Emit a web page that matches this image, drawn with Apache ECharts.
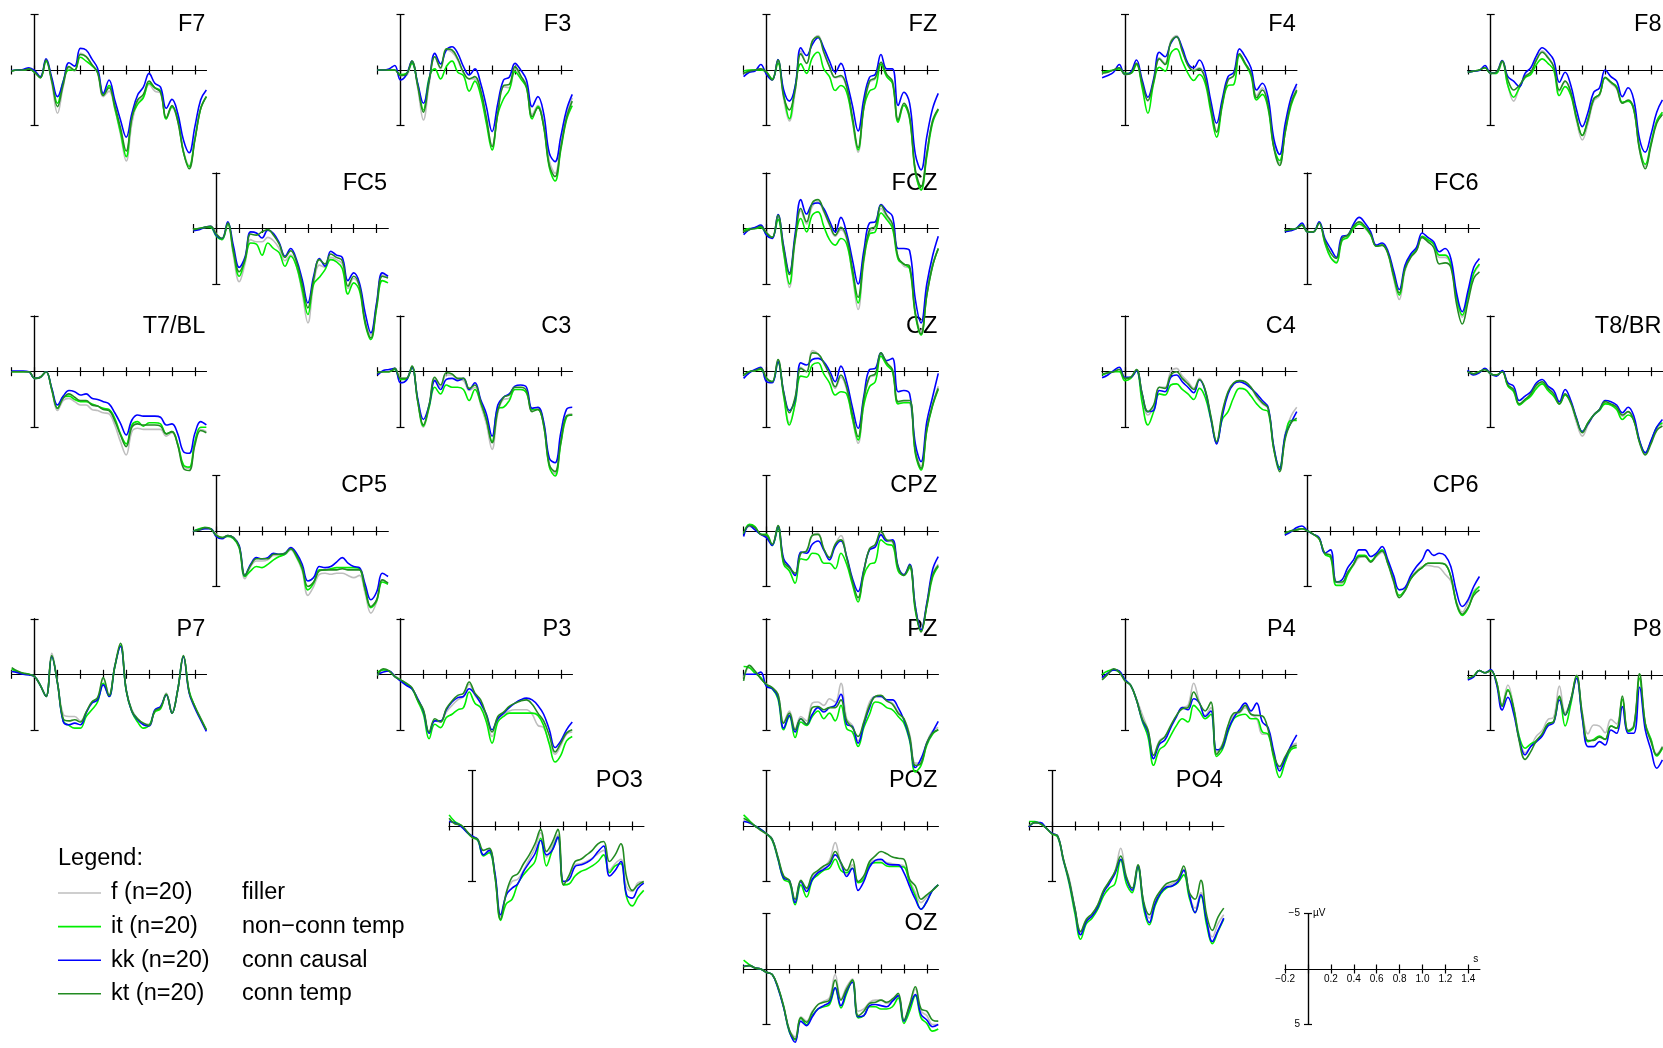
<!DOCTYPE html>
<html><head><meta charset="utf-8">
<script src="https://cdn.jsdelivr.net/npm/echarts@6/dist/echarts.min.js"></script>
<style>html,body{margin:0;padding:0;background:#fff}#c{width:1663px;height:1048px}</style>
</head><body><div id="c"></div><script>
// ---- data (µV, negative plotted up) ----
const times = [-0.2,-0.15,-0.1,-0.05,0,0.05,0.1,0.15,0.2,0.25,0.3,0.35,0.4,0.45,0.5,0.55,0.6,0.65,0.7,0.75,0.8,0.85,0.9,0.95,1.0,1.05,1.1,1.15,1.2,1.25,1.3,1.35,1.4,1.45,1.5];
const seriesNames = ['f (n=20)','it (n=20)','kk (n=20)','kt (n=20)'];
const seriesDesc = ['filler','non\u2212conn temp','conn causal','conn temp'];
const xTickValues = [-0.2,0,0.2,0.4,0.6,0.8,1.0,1.2,1.4];
const xLabelValues = [-0.2,0.2,0.4,0.6,0.8,1.0,1.2,1.4];
const xLabelTexts = ['\u22120.2','0.2','0.4','0.6','0.8','1.0','1.2','1.4'];
const yTickValues = [-5,5];

// each channel: [f, it, kk, kt]
const F7 = [
 [0.1,0,0,-0.1,0.2,0.7,-0.8,1.2,3.9,1.5,-0.2,0.1,-1.5,-1.2,-0.5,0.3,2.4,1.9,3.5,5.8,8.2,4.8,2.9,2.4,1.3,1.9,2.1,4.4,3.4,4.6,7.3,8.6,6.2,3.5,2.4],
 [0.1,0,0,-0.1,0.2,0.7,-0.8,0.9,3.0,1.0,0,0,-1.15,-0.8,-0.4,0.2,2.2,1.4,3.4,5.6,7.8,4.2,3.1,2.5,1.2,1.6,1.9,4.4,3.3,4.4,7.4,8.7,6.2,3.5,2.4],
 [0.05,0,-0.05,-0.2,0.05,0.6,-1.0,0.7,2.4,1.05,-0.65,-0.35,-1.95,-1.8,-1.0,-0.15,2.1,0.9,2.7,4.5,6.05,3.9,2.25,1.55,0.3,1.2,1.55,3.45,2.65,3.9,6.3,7.45,5.1,2.7,1.8],
 [0.1,0,0,-0.1,0.2,0.7,-0.9,1.0,3.3,1.3,-0.3,0,-1.4,-1.2,-0.5,0.2,2.3,1.6,3.2,5.2,7.3,4.3,2.7,2.2,1.0,1.6,2.0,4.3,3.2,4.6,7.4,8.9,6.3,3.5,2.4]];
const F3 = [
 [0,0,0,0,0.5,0.5,-0.7,1.6,4.5,1.3,-1.2,-0.1,-1.8,-1.6,-0.9,0.3,0.8,0.8,2.0,4.5,6.8,3.9,1.5,1.6,-0.1,0.6,1.3,4.0,3.2,4.8,8.2,9.3,6.7,4.1,2.5],
 [0,0,0,0,0.4,0.3,-0.6,1.3,3.6,0.7,-0.1,0.8,-0.3,-0.8,0.2,0.5,1.9,1.0,2.3,4.8,7.2,4.0,2.6,1.8,0.15,0.8,1.6,4.4,3.3,5.1,8.8,10.0,7.2,4.5,3.2],
 [0,0,-0.1,-0.4,0.9,0.45,-0.8,1.2,3.0,0.9,-1.5,-0.55,-1.8,-2.1,-1.5,-0.3,0.45,-0.1,1.2,3.3,5.55,3.0,0.9,0.65,-0.6,0,0.9,3.3,2.4,3.9,7.5,8.25,6.0,3.6,2.2],
 [0,0,0,0,0.5,0.4,-0.8,1.4,3.8,1.0,-1.2,-0.2,-1.9,-1.8,-1.0,0.2,0.8,0.6,1.8,4.3,6.9,3.8,1.4,1.3,-0.3,0.5,1.5,4.2,3.4,5.0,8.6,9.6,7.0,4.3,2.8]];
const FZ = [
 [0.3,0.1,0,-0.1,0.2,0.9,-0.8,2.6,4.6,2.0,-1.7,-0.6,-2.6,-3.1,-1.8,-0.3,0.7,0.6,1.6,4.6,7.4,3.5,1.1,0.8,-0.6,0.6,1.1,4.6,3.1,4.4,9.2,10.8,7.6,4.6,3.5],
 [0.1,0,0,0,0.2,0.8,-0.6,2.2,4.4,1.5,-0.55,0.3,-1.1,-1.6,-0.1,0.6,1.85,1.4,2.0,4.5,7.2,3.4,1.9,1.6,-0.5,0.6,1.2,4.7,3.2,4.4,9.2,10.8,7.8,4.8,3.6],
 [0.6,0.2,0.1,-0.5,0.4,0.9,-0.95,1.8,2.8,1.5,-2.0,-1.3,-2.3,-2.9,-2.0,-0.8,0.2,-0.6,1.0,3.2,5.5,2.6,0.65,0.4,-1.4,-0.1,-0.1,3.2,2.0,3.0,7.6,9.0,6.0,3.5,2.1],
 [0.3,0.1,0,-0.1,0.2,0.9,-0.9,2.4,3.6,1.8,-1.45,-0.6,-2.6,-3.0,-1.6,-0.3,0.65,0.5,1.5,4.2,7.0,3.3,1.0,0.7,-0.7,0.4,1.0,4.5,3.0,4.2,9.0,10.5,7.5,4.6,3.5]];
const F4 = [
 [0.3,0.2,0,-0.2,0.4,0.3,-0.6,1.3,2.8,1.1,-1.1,-0.6,-2.6,-3.1,-1.8,-0.5,0,-0.2,0.7,3.3,5.5,3.0,0.9,0.5,-1.4,-0.6,0.3,2.3,1.6,3.0,6.8,8.4,5.3,2.7,1.5],
 [0.2,0.1,0,-0.1,0.3,0.3,-0.5,1.6,3.9,1.2,-0.25,0.1,-1.5,-1.9,-0.8,0.3,0.95,0.4,1.2,3.8,6.05,3.2,1.4,1.3,-1.3,-0.5,0.5,2.7,2.2,3.5,7.0,8.15,5.6,3.2,1.9],
 [0.7,0.5,0.2,-0.5,0.4,0.2,-0.9,0.9,2.45,0.8,-1.6,-1.2,-2.4,-3.0,-2.0,-0.6,-0.2,-0.9,0.2,2.8,4.8,2.6,0.6,0.2,-1.9,-1.2,-0.2,1.8,1.2,2.5,6.2,7.6,4.8,2.5,1.25],
 [0.3,0.2,0,-0.2,0.4,0.3,-0.6,1.2,2.75,1.0,-1.0,-0.5,-2.5,-3.0,-1.7,-0.4,0.1,-0.1,0.8,3.4,5.6,3.0,0.9,0.5,-1.45,-0.6,0.3,2.5,1.8,3.2,7.0,8.6,5.5,3.0,1.8]];
const F8 = [
 [0.2,0.1,0,-0.2,0.3,0.3,-0.7,1.4,2.8,1.6,0.5,0.2,-1.0,-1.7,-1.2,-0.3,1.9,1.0,2.1,4.6,6.3,4.8,2.8,2.3,0.7,1.2,1.7,3.0,2.8,3.6,7.2,8.7,6.6,4.6,3.8],
 [0.2,0.1,0,-0.2,0.3,0.3,-0.8,1.4,2.45,1.6,0.7,0.4,-0.5,-1.0,-0.6,0,2.3,1.5,2.3,4.4,5.9,4.4,2.6,2.2,0.7,1.1,1.5,2.9,2.8,3.6,7.0,8.5,6.6,4.6,3.8],
 [0.2,0.1,0.05,-0.4,0.3,0.2,-0.85,0.6,1.0,1.5,0.3,-0.2,-1.3,-2.0,-1.6,-0.9,1.1,0.2,1.4,3.6,5.1,3.8,2.0,1.6,0,0.6,1.0,2.4,1.6,2.7,6.2,7.4,5.8,3.8,2.7],
 [0.2,0.1,0,-0.2,0.3,0.2,-0.8,0.9,1.8,1.4,0.6,0.2,-0.9,-1.6,-1.1,-0.3,1.8,1.0,2.0,4.3,5.9,4.5,2.6,2.2,0.65,1.1,1.6,3.0,2.7,3.5,7.2,8.9,6.8,4.8,4.0]];
const FC5 = [
 [0.1,0,-0.1,-0.2,0.5,1.0,-0.4,2.5,4.8,3.2,1.0,1.2,1.2,0.8,1.1,1.8,2.9,2.4,3.4,5.8,8.5,5.0,3.3,3.5,2.6,2.8,3.2,5.4,4.5,5.2,8.4,9.6,6.8,4.2,4.4],
 [0.1,0,-0.1,-0.1,0.7,1.0,-0.4,2.2,4.3,2.9,1.3,1.4,2.4,1.3,1.8,2.2,3.4,2.5,3.4,5.5,7.75,5.0,4.4,3.7,2.8,3.0,3.6,5.9,4.9,5.6,8.6,10.0,7.2,4.7,4.9],
 [0.2,0.1,-0.1,-0.2,0.6,0.9,-0.6,1.6,3.5,2.6,0.3,0.4,0.85,0.15,0.45,1.3,2.5,1.8,2.8,4.6,6.7,4.3,2.7,3.4,2.05,2.4,2.6,4.7,4.0,4.9,7.6,9.4,6.7,4.0,4.3],
 [0.1,0,-0.1,-0.2,0.5,0.9,-0.5,2.0,3.9,2.8,0.5,0.6,0.3,0.1,0.6,1.4,2.6,2.0,3.0,5.0,7.15,4.6,2.8,3.2,2.3,2.6,2.9,5.2,4.3,5.2,8.4,9.85,7.0,4.3,4.45]];
const FCZ = [
 [0.3,0.1,0,-0.2,0.4,0.9,-1.0,2.2,5.3,1.2,-1.6,-0.4,-2.0,-2.4,-1.5,-0.3,0.7,0.1,1.0,4.2,7.3,3.0,0.3,0,-1.8,-1.0,-0.2,2.6,3.4,3.6,7.6,9.3,5.8,3.2,1.9],
 [0.2,0,0,-0.1,0.5,0.8,-0.8,2.2,5.0,1.0,-0.9,0.3,-1.2,-1.5,-0.2,1.0,1.5,0.9,1.4,4.0,6.7,2.8,0.5,0.3,-1.4,-0.8,0,2.8,3.2,3.6,7.8,9.6,6.0,3.4,1.8],
 [0.55,0.1,-0.1,-0.3,0.6,0.9,-1.25,1.6,4.0,0.5,-2.6,-1.3,-2.2,-2.3,-1.8,-0.7,0.3,-1.0,0.4,2.8,5.0,2.0,-0.5,-0.6,-2.15,-1.6,-1.1,1.8,1.8,2.0,6.4,8.5,5.0,2.5,0.7],
 [0.3,0.1,0,-0.2,0.4,0.8,-1.2,1.8,4.15,0.9,-1.8,-0.6,-2.3,-2.6,-1.6,-0.4,0.6,-0.1,0.8,3.6,6.2,2.6,0.1,-0.2,-2.1,-1.2,-0.4,2.6,3.2,3.4,7.6,9.5,6.0,3.4,1.8]];
const FC6 = [
 [0.2,0.1,0,-0.3,0.3,0.3,-0.5,1.3,2.6,3.0,1.0,0.7,0,-0.4,0,0.6,1.6,1.5,2.3,4.5,6.4,3.8,2.6,2.0,0.8,1.1,1.4,2.6,2.6,3.3,6.4,8.0,6.2,4.1,3.3],
 [0.2,0.1,0,-0.3,0.3,0.3,-0.5,1.3,2.6,3.1,1.1,0.8,0,-0.4,-0.1,0.6,1.6,1.5,2.2,4.3,6.0,3.6,2.5,1.9,0.7,1.0,1.4,2.4,2.4,3.2,6.2,7.8,6.0,4.0,3.2],
 [0.3,0.2,0,-0.5,0.3,0.3,-0.6,0.9,1.8,2.6,0.7,0.6,-0.4,-1.0,-0.5,0.3,1.5,1.3,2.0,3.8,5.5,3.3,2.3,1.7,0.4,0.8,1.2,2.1,1.8,2.7,5.8,7.5,5.6,3.5,2.7],
 [0.2,0.1,0,-0.3,0.3,0.3,-0.5,1.1,2.2,2.7,0.9,0.6,-0.2,-0.6,-0.2,0.5,1.6,1.5,2.2,4.2,5.8,3.6,2.6,2.0,0.8,1.2,1.7,3.2,3.1,3.5,6.8,8.6,6.6,4.5,3.9]];
const T7 = [
 [0,0,0,0,0.6,0.5,0,1.7,3.5,2.6,2.4,2.7,3.0,3.0,3.4,3.5,3.7,3.8,4.8,6.3,7.5,5.4,5.1,5.2,5.2,5.2,5.2,5.8,5.5,6.6,8.5,8.7,6.4,5.2,5.4],
 [0,0,0,0,0.6,0.5,0,1.6,3.3,2.3,2.2,2.5,2.7,2.7,2.9,3.1,3.3,3.4,4.2,5.6,6.5,4.8,4.5,4.9,4.6,4.6,4.7,5.6,5.4,6.5,8.4,8.6,6.3,5.0,5.0],
 [-0.05,-0.05,-0.05,0,0.6,0.5,0,1.5,3.0,2.2,1.7,1.8,2.1,2.0,2.4,2.5,2.7,2.9,3.7,4.65,5.7,4.35,3.9,4.0,4.0,4.0,4.1,4.8,4.7,5.6,7.2,7.35,5.55,4.5,4.8],
 [0,0,0,0,0.6,0.5,0,1.6,3.3,2.4,2.0,2.3,2.6,2.6,3.0,3.1,3.4,3.5,4.4,5.7,6.75,5.0,4.7,4.8,4.8,4.8,4.9,5.6,5.4,6.6,8.7,8.9,6.6,5.3,5.5]];
const C3 = [
 [0.1,0,0,-0.3,0.6,0.6,-0.4,2.7,5.0,3.2,0.7,1.4,0.3,0.3,0.7,0.8,1.7,1.4,3.0,4.7,7.0,3.7,2.5,2.4,1.6,1.6,1.9,3.5,3.3,4.6,8.3,9.2,6.4,4.0,3.8],
 [0.1,0,0,-0.2,0.7,0.7,-0.4,2.6,4.9,3.2,1.4,2.0,1.2,1.4,1.4,1.6,2.6,1.6,2.8,4.3,6.3,3.3,3.2,2.6,1.6,1.6,1.9,3.4,3.4,4.8,8.6,9.4,6.5,4.1,3.9],
 [0.3,-0.1,-0.2,-0.3,1.0,0.8,-0.4,2.4,4.3,3.0,0.8,1.6,0.7,0.6,0.8,0.6,1.6,1.0,2.5,3.8,5.8,3.0,2.3,2.0,1.3,1.2,1.4,3.3,3.2,4.5,7.8,8.2,5.5,3.4,3.2],
 [0.1,0,0,-0.3,0.6,0.6,-0.5,2.6,4.8,3.0,0.5,1.2,0.1,0.2,0.6,0.6,1.5,1.2,2.7,4.3,6.4,3.5,2.3,2.1,1.4,1.4,1.7,3.6,3.4,4.8,8.4,9.0,6.3,4.0,3.9]];
const CZ = [
 [0.3,0,-0.1,-0.3,0.6,0.9,-1.0,2.1,4.6,2.9,-0.4,0,-1.9,-1.6,-0.8,0.3,1.5,0.5,1.6,4.2,6.45,2.8,0.5,0.3,-1.6,-0.7,-0.1,2.8,2.7,2.8,7.1,8.5,5.1,3.0,1.3],
 [0.3,0,-0.1,-0.2,0.6,0.9,-0.8,2.2,4.8,2.9,0.4,0.5,-0.6,-0.8,0.2,1.0,2.1,1.8,2.0,4.2,6.15,3.0,1.35,0.9,-1.4,-0.6,0,2.9,2.8,2.8,7.4,8.85,5.3,3.1,1.6],
 [0.6,0.1,-0.2,-0.4,0.9,1.0,-0.9,1.8,3.5,2.5,-0.8,-0.6,-1.1,-1.2,-0.9,-0.1,0.9,-0.5,0.9,3.2,5.1,2.2,-0.2,-0.3,-1.7,-1.0,-1.2,1.8,1.7,2.0,6.5,8.1,4.5,2.3,0.15],
 [0.3,0,-0.1,-0.3,0.6,0.9,-1.1,1.9,3.7,2.3,-0.3,0,-1.7,-1.6,-0.8,0.2,1.35,0.3,1.4,3.8,5.85,2.5,0.45,0.2,-1.7,-0.8,-0.2,2.7,2.6,2.6,7.2,8.7,5.2,3.0,1.5]];
const C4 = [
 [0.2,0.1,0,-0.2,0.6,0.5,-0.2,2.1,3.9,3.2,1.4,1.4,0,-0.3,0.4,0.9,1.5,0.6,1.7,4.1,6.5,3.8,1.8,1.0,0.9,1.0,1.4,2.3,2.9,3.3,6.8,8.6,5.5,4.0,3.2],
 [0.3,0.1,0,0,0.8,0.6,-0.1,2.8,4.8,3.6,2.0,2.1,1.2,1.1,1.6,2.0,2.5,1.5,2.3,4.3,6.4,4.3,3.6,2.3,1.5,1.6,2.2,2.9,3.4,3.6,7.0,8.6,5.8,4.4,4.4],
 [0.55,0.3,-0.1,-0.4,0.5,0.5,-0.1,2.0,3.6,3.5,1.7,1.8,0.5,0.3,0.9,1.4,1.9,0.75,1.7,4.2,6.5,4.0,2.0,1.1,0.9,1.1,1.5,2.0,2.6,3.2,6.8,8.8,5.7,4.6,3.6],
 [0.2,0.1,0,-0.2,0.6,0.5,-0.2,2.0,3.6,3.0,1.4,1.5,0.3,0,0.6,1.1,1.6,0.7,1.6,4.0,6.3,3.6,1.8,1.0,0.8,0.9,1.4,2.2,2.8,3.3,7.0,9.0,6.0,4.6,4.2]];
const T8 = [
 [0,0.2,0,-0.2,0.2,0.3,0,1.2,1.7,3.0,2.6,2.1,1.3,1.0,1.5,2.0,2.9,2.1,2.9,4.6,5.8,4.8,3.9,3.4,2.8,3.0,3.3,4.0,3.6,4.3,6.3,7.4,6.3,5.1,4.7],
 [0,0.2,0,-0.2,0.2,0.3,0,1.3,1.8,3.0,2.6,2.2,1.5,1.1,1.7,2.2,2.9,2.1,2.8,4.3,5.4,4.6,3.9,3.5,2.9,3.0,3.4,4.3,3.9,4.4,6.3,7.3,6.3,5.0,4.6],
 [-0.15,0.3,0.1,-0.3,0.2,0.4,-0.1,1.0,1.3,2.6,2.2,1.8,1.0,0.7,1.3,1.7,2.7,1.6,2.6,4.2,5.4,4.7,3.9,3.4,2.6,2.7,3.0,3.7,3.2,4.0,6.2,7.3,6.2,5.0,4.3],
 [0,0.2,0,-0.2,0.2,0.3,0,1.2,1.6,2.9,2.5,2.0,1.2,0.9,1.5,2.0,2.9,2.0,2.8,4.3,5.5,4.6,3.9,3.4,2.7,2.9,3.2,3.9,3.6,4.4,6.4,7.5,6.5,5.3,4.9]];
const CP5 = [
 [0,-0.1,-0.2,-0.2,0.3,0.6,0.4,0.6,1.5,4.3,3.2,2.7,2.7,2.6,2.2,2.2,2.1,1.7,2.4,3.6,5.8,5.0,3.9,3.8,3.9,3.8,3.8,4.0,4.2,4.0,5.6,7.4,6.4,4.4,4.7],
 [0,-0.2,-0.3,-0.2,0.4,0.6,0.5,0.7,1.5,4.1,3.6,3.2,3.3,3.0,2.6,2.3,2.1,1.6,2.3,3.4,5.3,4.7,3.5,3.5,3.4,3.3,3.3,3.3,3.3,3.4,5.3,6.9,6.3,4.6,4.8],
 [0,-0.1,-0.2,-0.2,0.5,0.7,0.4,0.6,1.3,4.0,3.0,2.4,2.5,2.4,2.0,2.1,2.0,1.5,2.0,3.0,4.5,4.2,3.2,3.3,3.2,2.8,2.4,2.9,3.2,3.3,4.8,6.2,5.5,3.8,4.1],
 [0,-0.1,-0.3,-0.2,0.4,0.6,0.4,0.6,1.4,4.0,3.1,2.5,2.5,2.5,2.1,2.1,2.0,1.6,2.2,3.3,5.0,4.6,3.6,3.5,3.5,3.5,3.4,3.5,3.5,3.5,5.2,6.8,6.2,4.4,4.7]];
const CPZ = [
 [0.2,-0.4,-0.2,0.3,0.4,1.2,-0.4,2.8,3.4,4.0,2.0,1.8,0.4,0.2,1.6,2.4,1.2,0.4,2.4,4.6,6.2,3.6,1.6,1.3,0.2,0.9,1.0,3.3,3.9,3.1,6.8,8.9,6.6,3.9,3.0],
 [0.3,-0.6,-0.4,0.3,0.3,1.3,-0.2,3.0,3.6,4.7,2.5,2.6,2.0,2.1,2.9,2.9,3.4,2.0,3.0,4.8,6.4,4.0,3.0,2.8,0.8,1.2,1.3,3.6,4.0,3.3,7.2,9.0,6.8,4.2,3.2],
 [0.5,-0.5,-0.1,0.3,0.6,1.3,-0.4,2.5,3.2,4.0,1.9,2.0,1.2,0.9,1.7,2.6,1.4,0.9,2.3,4.25,5.45,3.5,1.7,1.45,0.35,0.9,0.8,3.2,3.95,3.0,6.8,8.9,6.5,3.5,2.3],
 [0.2,-0.5,-0.3,0.3,0.4,1.2,-0.5,2.8,3.3,3.8,2.0,1.8,0.4,0.3,1.6,2.4,1.2,0.8,2.4,4.5,6.0,3.6,1.6,1.2,0,0.8,0.9,3.3,4.0,3.1,7.0,9.1,6.7,4.0,3.1]];
const CP6 = [
 [0.2,0,-0.1,-0.2,0,0.3,0.7,2.0,2.2,4.6,4.7,3.8,3.1,2.4,2.3,2.8,2.3,1.9,3.0,4.6,5.8,5.3,4.2,3.6,3.2,3.1,3.2,3.3,3.9,4.5,6.4,7.3,6.4,5.4,5.0],
 [0.2,0,-0.1,-0.2,0,0.3,0.7,2.1,2.4,4.9,4.9,3.9,3.0,2.2,2.2,2.7,2.2,1.7,2.9,4.4,5.8,5.3,4.3,3.7,3.3,2.9,2.9,2.9,3.0,4.1,6.6,7.6,7.0,5.6,5.0],
 [0.35,0.1,-0.3,-0.45,0,0.3,0.6,2.0,1.7,4.6,4.4,3.3,2.6,1.7,1.7,2.3,2.0,1.4,2.6,4.0,5.3,5.1,4.0,3.2,2.6,1.7,2.2,2.0,2.2,3.2,5.5,6.8,6.2,5.0,4.1],
 [0.2,0,-0.1,-0.2,0,0.3,0.7,2.0,2.2,4.6,4.6,3.7,3.0,2.3,2.3,2.8,2.2,1.8,2.9,4.5,6.0,5.4,4.3,3.7,3.3,2.9,2.9,2.9,3.0,4.1,6.5,7.5,6.9,5.8,5.3]];
const P7 = [
 [-0.3,-0.2,-0.1,0,0.2,1.0,2.0,-1.9,0.7,3.6,3.8,3.8,4.2,3.4,2.5,2.2,0.4,1.9,-0.7,-2.6,1.5,3.2,4.0,4.4,4.5,3.3,3.0,1.7,3.4,1.5,-1.5,1.6,2.9,3.9,5.0],
 [-0.5,-0.2,-0.1,0,0.2,1.0,2.0,-1.6,0.8,4.2,4.6,4.85,4.85,3.8,3.2,2.5,0.8,2.0,-0.6,-2.6,1.5,3.4,4.3,4.85,4.6,3.4,3.1,1.8,3.5,1.4,-1.6,1.5,2.9,4.0,5.0],
 [-0.25,-0.15,0,0.05,0.2,1.0,2.0,-1.6,0.8,4.25,4.55,4.4,4.55,3.5,2.6,2.3,0.95,2.0,-0.7,-2.5,1.4,3.35,4.1,4.55,4.65,3.2,2.9,1.85,3.5,1.4,-1.6,1.7,3.05,4.1,5.15],
 [-0.6,-0.3,-0.1,0,0.2,1.0,2.0,-1.7,0.8,4.0,4.2,4.1,4.3,3.4,2.5,2.1,0.3,1.9,-0.7,-2.8,1.4,3.3,4.0,4.4,4.6,3.3,3.0,1.8,3.5,1.4,-1.7,1.6,2.9,4.0,5.0]];
const P3 = [
 [0.1,-0.4,-0.3,0.1,0.5,0.8,1.2,2.3,3.3,5.3,4.2,4.3,3.4,2.8,2.3,2.0,0.9,1.9,2.6,4.0,5.6,4.1,3.6,3.3,3.2,3.2,3.2,3.6,4.6,4.8,6.2,7.2,6.4,5.4,5.2],
 [-0.2,-0.4,-0.3,0.2,0.5,0.9,1.3,2.4,3.6,5.8,4.5,4.8,3.9,3.6,3.2,3.0,1.6,2.6,3.0,4.3,6.2,4.3,3.8,3.5,3.5,3.5,3.5,3.5,3.7,4.6,6.3,7.9,7.3,6.0,5.6],
 [0,-0.2,-0.3,0.2,0.6,1.0,1.3,2.2,3.3,5.3,4.2,4.2,3.2,2.5,2.1,2.0,1.3,1.8,2.6,3.6,5.0,4.0,3.5,3.0,2.6,2.3,2.15,2.3,2.8,3.6,5.0,6.6,6.0,5.0,4.3],
 [0.1,-0.5,-0.3,0.2,0.5,0.8,1.2,2.3,3.2,5.2,4.0,4.3,3.1,2.4,1.9,1.7,0.7,1.7,2.3,3.7,5.2,3.8,3.4,2.9,2.6,2.4,2.3,2.7,3.5,4.2,5.5,7.0,6.2,5.3,5.0]];
const PZ = [
 [0.3,-0.6,-0.2,0.3,0.9,1.2,1.8,4.3,3.3,4.9,3.8,4.2,2.6,2.5,2.8,2.2,2.5,0.8,4.0,4.6,6.0,4.3,2.5,2.0,2.0,2.4,2.6,3.4,4.0,5.4,8.0,7.9,6.1,5.1,4.8],
 [-0.7,-0.6,-0.1,0.3,1.0,1.3,2.2,5.0,3.8,5.7,4.3,4.6,3.8,3.3,4.0,3.5,4.2,2.8,4.9,5.2,6.5,4.8,3.6,2.5,2.6,3.0,3.2,3.8,4.4,6.0,8.8,8.2,6.4,5.4,5.0],
 [0,0,0,-0.2,1.1,1.3,2.0,4.85,3.7,5.2,4.0,4.5,3.6,3.0,3.4,3.0,2.8,1.8,4.5,4.7,6.2,4.5,3.0,2.0,2.0,2.3,2.3,3.0,4.1,5.8,8.4,7.6,6.2,5.2,4.25],
 [0.6,-0.8,-0.3,0.4,0.9,1.2,1.8,4.4,3.5,5.0,4.0,4.5,3.0,2.9,3.2,3.0,3.0,2.3,4.2,4.8,5.6,4.3,2.8,2.0,1.9,2.4,2.7,3.5,4.0,5.6,8.2,8.0,6.2,5.3,5.0]];
const P4 = [
 [0.4,0,-0.4,-0.2,0.5,1.0,2.2,3.6,5.0,7.3,6.0,5.6,4.7,3.7,3.0,2.8,0.8,2.5,3.7,3.0,7.0,6.3,4.7,3.7,3.5,3.0,3.6,4.0,5.4,5.4,7.4,8.5,7.5,6.5,6.2],
 [0,-0.3,-0.4,-0.2,0.5,1.0,2.3,4.2,5.6,8.2,6.8,6.4,5.5,4.6,4.0,4.3,2.8,3.3,4.0,3.6,7.4,6.8,5.2,4.0,3.7,3.6,4.0,4.0,5.2,5.4,7.6,9.3,7.9,6.8,6.6],
 [0.3,-0.1,-0.4,-0.3,0.5,1.0,2.3,4.1,5.2,7.6,6.3,5.9,4.8,3.8,3.0,3.2,2.2,2.6,3.8,3.3,6.8,6.6,5.0,3.9,3.2,2.6,3.3,2.6,4.3,4.8,7.0,8.7,7.6,6.4,5.45],
 [0.5,0,-0.5,-0.2,0.6,1.0,2.3,4.0,5.0,7.3,6.1,5.6,4.6,3.7,3.1,3.0,1.6,2.6,3.3,2.5,7.2,6.4,4.6,3.5,3.4,2.8,3.6,3.7,3.75,5.0,7.3,8.3,7.4,6.6,6.4]];
const P8 = [
 [0.3,0.1,-0.4,-0.2,-0.4,0.6,2.6,0.9,2.8,5.6,7.0,6.4,5.5,5.0,4.0,3.8,1.0,3.4,2.2,0,3.4,5.3,4.5,4.6,5.2,4.0,4.4,2.2,5.0,4.5,0.3,4.3,5.8,7.1,6.4],
 [0.3,0.1,-0.4,-0.2,-0.4,0.6,2.8,1.3,3.0,5.6,6.6,6.2,5.9,5.3,4.4,4.2,2.0,4.6,2.6,0.1,3.8,6.0,5.8,5.5,5.8,4.6,4.8,2.2,5.1,4.7,0.3,4.4,5.8,7.3,6.6],
 [0.45,0.2,-0.4,-0.2,-0.5,0.8,3.15,2.0,3.45,5.85,7.2,6.45,6.0,5.5,4.6,4.3,2.25,3.6,2.25,0.3,3.9,6.45,6.45,6.0,6.3,4.95,5.25,2.85,5.25,5.25,1.1,4.95,6.75,8.4,7.65],
 [0.3,0.1,-0.4,-0.2,-0.4,0.6,2.8,1.4,3.0,6.0,7.6,6.9,5.9,5.3,4.4,4.2,1.9,3.6,2.2,0.05,3.5,5.9,5.9,5.6,5.8,4.6,4.8,1.9,5.0,4.6,-0.1,4.4,6.0,7.2,6.5]];
const PO3 = [
 [-0.5,-0.2,-0.1,0.5,1.0,1.3,2.6,2.1,4.3,8.2,6.0,5.0,4.8,4.0,3.0,2.0,0.6,2.8,1.8,0.8,5.2,4.5,3.5,3.4,3.2,2.9,2.5,2.2,4.0,3.4,3.0,5.5,5.9,5.1,5.0],
 [-1.0,-0.4,-0.1,0.5,1.0,1.3,2.7,2.4,4.5,8.5,7.0,6.6,5.2,4.4,3.8,3.2,1.1,3.6,2.2,1.0,5.3,5.2,4.5,4.1,3.9,3.6,3.2,2.6,4.2,3.6,3.4,6.4,7.2,6.4,5.8],
 [-0.4,-0.3,0,0.5,0.9,1.2,2.6,2.2,4.2,8.0,6.2,5.6,5.2,4.1,3.3,2.5,1.3,2.6,2.2,1.0,5.0,4.8,3.65,3.5,3.3,2.95,2.3,1.8,4.5,4.0,3.2,6.2,6.5,5.6,5.15],
 [-0.7,-0.2,-0.1,0.4,1.0,1.2,2.2,2.0,4.5,8.4,6.0,4.6,4.3,3.4,2.6,1.6,0.3,2.3,1.5,0.3,5.3,4.4,3.2,3.0,2.6,2.2,1.6,1.4,3.2,2.6,1.6,4.6,5.8,5.3,5.0]];
const POZ = [
 [-0.5,-0.3,0,0.4,0.7,1.2,2.9,4.6,5.0,6.8,5.0,5.7,4.5,4.1,3.7,3.1,1.5,3.5,4.4,3.5,5.0,4.6,3.4,3.1,3.1,3.3,3.4,3.5,3.6,4.9,6.0,6.9,6.4,5.8,5.3],
 [-1.0,-0.5,0,0.3,0.7,1.3,3.0,4.8,5.1,7.1,5.3,6.4,4.9,4.4,4.0,3.8,3.0,4.0,4.2,3.8,5.1,4.8,3.5,3.3,3.3,3.6,3.65,3.65,3.7,5.1,6.3,7.5,6.8,5.8,5.3],
 [-0.4,-0.3,0,0.3,0.7,1.2,2.9,4.7,4.9,6.9,5.0,5.9,4.8,4.2,3.9,3.5,2.6,3.3,4.55,3.8,5.8,5.0,3.7,3.1,3.0,3.4,3.5,3.5,4.2,5.45,6.6,7.5,6.8,5.8,5.3],
 [-0.7,-0.4,0,0.4,0.7,1.2,2.8,4.5,4.9,6.6,4.9,5.6,4.4,4.0,3.6,3.3,2.3,3.3,4.0,3.0,5.0,4.5,3.2,2.7,2.3,2.5,2.8,2.9,3.0,4.8,5.4,6.6,6.2,5.8,5.3]];
const PO4 = [
 [0,-0.3,-0.2,0.2,0.7,1.0,3.2,4.7,7.4,9.6,8.5,8.0,7.1,5.9,5.0,4.1,2.0,4.6,5.7,3.6,7.0,8.3,6.8,5.8,5.4,5.2,4.8,3.9,6.3,7.4,6.0,8.5,10.0,8.8,8.0],
 [-0.4,-0.4,-0.2,0.2,0.7,1.0,3.1,5.2,7.9,10.2,8.8,8.3,7.5,6.3,5.6,5.2,3.1,5.2,6.0,3.8,7.4,8.9,7.2,6.1,5.6,5.4,5.1,4.4,6.5,7.8,6.3,8.9,10.6,9.5,8.4],
 [0.1,-0.3,-0.3,0.2,0.65,0.9,3.05,5.0,7.5,9.8,8.6,8.1,7.3,6.0,5.2,4.3,3.0,4.8,5.8,3.65,7.0,8.7,7.0,6.0,5.5,5.4,5.0,4.0,6.2,7.8,6.2,8.5,10.4,9.4,8.3],
 [0,-0.3,-0.2,0.2,0.7,0.9,3.0,4.9,7.4,9.5,8.4,7.9,7.1,5.8,5.0,4.1,2.7,4.6,5.6,3.5,6.8,8.0,6.6,5.8,5.2,5.0,4.8,3.6,6.0,6.6,4.9,8.0,9.4,8.2,7.4]];
const OZ = [
 [-0.2,-0.3,-0.1,0,0.3,0.5,1.6,3.3,5.5,6.1,4.3,4.7,3.8,3.2,2.9,2.6,0.5,2.7,1.6,0.9,3.8,3.6,3.0,2.8,2.8,3.1,2.9,2.4,4.7,3.5,1.8,3.8,4.2,5.0,5.0],
 [-0.8,-0.4,-0.1,0,0.3,0.5,1.7,3.4,5.7,6.4,4.4,5.0,4.2,3.6,3.4,3.2,1.7,3.5,2.2,1.0,4.4,4.2,3.4,3.4,3.6,3.6,3.4,2.6,4.9,3.8,2.4,4.4,4.9,5.6,5.4],
 [-0.25,-0.3,-0.1,0,0.3,0.5,1.7,3.5,5.6,6.6,4.7,5.1,4.3,3.6,3.3,3.0,1.7,3.3,2.0,1.2,4.3,4.2,3.3,3.2,3.3,3.4,2.9,2.4,4.7,3.4,2.3,4.1,4.6,5.2,5.0],
 [-0.2,-0.3,-0.1,0,0.3,0.5,1.6,3.4,5.5,6.3,4.4,4.8,3.9,3.2,3.0,2.8,1.0,2.8,1.8,1.0,4.2,3.8,3.1,3.0,2.8,3.0,2.7,2.2,4.6,3.2,1.6,3.6,3.8,4.6,4.7]];

// ---- layout (pixel positions of each panel: x of t=0, y of 0 µV) ----
const PX_PER_S = 114.5, HALF_H = 55.5;
const panels = [
 ['F7',F7,34.6,70],['F3',F3,400.5,70],['FZ',FZ,766.5,70],['F4',F4,1125,70],['F8',F8,1490.7,70],
 ['FC5',FC5,216.3,228.5],['FCZ',FCZ,766.5,228.5],['FC6',FC6,1307.7,228.5],
 ['T7/BL',T7,34.6,371.7],['C3',C3,400.5,371.7],['CZ',CZ,766.5,371.7],['C4',C4,1125,371.7],['T8/BR',T8,1490.7,371.7],
 ['CP5',CP5,216.3,531],['CPZ',CPZ,766.5,531],['CP6',CP6,1307.7,531],
 ['P7',P7,34.6,674.3],['P3',P3,400.5,674.3],['PZ',PZ,766.5,674.3],['P4',P4,1125,674.3],['P8',P8,1490.7,675],
 ['PO3',PO3,472,826],['POZ',POZ,766.5,826],['PO4',PO4,1052,826],
 ['OZ',OZ,766.5,969]
];
const SCALE_POS = [1308, 969];

const FONT = '"Liberation Sans", Arial, Helvetica, sans-serif';
const BIG = 23.5;
const COLORS = ['#bebebe', '#00ee00', '#0000ff', '#228b22'];
const AX = {color:'#000', width:1.2};

const grids=[], xAxes=[], yAxes=[], series=[], graphics=[];

// panel axes: x axis drawn through 0 µV, y axis drawn at t = 0, ticks crossing both sides
function addGrid(x0, base, withLabels) {
  const g = grids.length;
  grids.push({left: x0 - 0.2*PX_PER_S, top: base - HALF_H, width: 1.7*PX_PER_S, height: 2*HALF_H,
              containLabel:false, outerBoundsMode:'none'});
  ['bottom','top'].forEach((pos) => {
    const ax = {gridIndex:g, type:'value', min:-0.2, max:1.5, position:pos, offset:-HALF_H,
      axisLine:{show:true, onZero:false, lineStyle:AX},
      axisTick:{show:true, customValues:xTickValues, length:4.5, lineStyle:AX},
      axisLabel:{show:false}, splitLine:{show:false}, splitArea:{show:false}};
    if (withLabels && pos === 'bottom') {
      ax.axisLabel = {show:true, customValues:xLabelValues, margin:5, fontSize:10, fontFamily:FONT, color:'#000',
        formatter: v => { const i = xLabelValues.findIndex(u => Math.abs(u - v) < 1e-6); return i >= 0 ? xLabelTexts[i] : ''; }};
    }
    if (withLabels && pos === 'top') {
      ax.name = 's'; ax.nameLocation = 'end'; ax.nameGap = -4;
      ax.nameTextStyle = {fontSize:10, fontFamily:FONT, color:'#000', align:'center', verticalAlign:'bottom', padding:[0,0,5,0]};
    }
    xAxes.push(ax);
  });
  ['left','right'].forEach((pos) => {
    const ax = {gridIndex:g, type:'value', min:-5, max:5, inverse:true, position:pos,
      offset: pos === 'left' ? -0.2*PX_PER_S : -1.5*PX_PER_S,
      axisLine:{show:true, onZero:false, lineStyle:AX},
      axisTick:{show:true, customValues:yTickValues, length:4, lineStyle:AX},
      axisLabel:{show:false}, splitLine:{show:false}, splitArea:{show:false}};
    if (withLabels && pos === 'left') {
      ax.axisLabel = {show:true, customValues:[-5,5], margin:8, fontSize:10, fontFamily:FONT, color:'#000',
        formatter: v => v < 0 ? '\u22125' : '5'};
    }
    if (withLabels && pos === 'right') {
      ax.axisLabel = {show:true, customValues:[-5], margin:5, fontSize:10, fontFamily:FONT, color:'#000',
        formatter: () => '\u00b5V'};
    }
    yAxes.push(ax);
  });
  return g;
}

panels.forEach(([name, vals, x0, base]) => {
  const g = addGrid(x0, base, false);
  seriesNames.forEach((nm, k) => {
    series.push({name:nm, type:'line', xAxisIndex:2*g, yAxisIndex:2*g,
      data: times.map((t, i) => [t, vals[k][i]]),
      symbol:'none', showSymbol:false, smooth:0.4, clip:false, silent:true, animation:false,
      lineStyle:{color:COLORS[k], width:1.6}, itemStyle:{color:COLORS[k]}, z:2+k});
  });
  graphics.push({type:'text', x: x0 + 1.5*PX_PER_S - 1, y: base - 45, silent:true,
    style:{text:name, fill:'#000', fontSize:BIG, fontFamily:FONT, textAlign:'right', align:'right', textVerticalAlign:'middle', verticalAlign:'middle'}});
});
addGrid(SCALE_POS[0], SCALE_POS[1], true);

graphics.push({type:'text', x:58, y:859, silent:true,
  style:{text:'Legend:', fill:'#000', fontSize:BIG, fontFamily:FONT, textAlign:'left', align:'left', textVerticalAlign:'middle', verticalAlign:'middle'}});

const chart = echarts.init(document.getElementById('c'), null, {renderer:'canvas'});
chart.setOption({
  animation:false,
  backgroundColor:'#fff',
  textStyle:{fontFamily:FONT},
  grid:grids, xAxis:xAxes, yAxis:yAxes, series:series,
  graphic:{elements:graphics},
  legend:{data:seriesNames, orient:'vertical', left:58, top:881, padding:0, itemGap:9.6,
    itemWidth:43, itemHeight:1.6, icon:'rect', selectedMode:false,
    formatter: nm => '{a|' + nm + '}{b|' + seriesDesc[seriesNames.indexOf(nm)] + '}',
    textStyle:{color:'#000', fontSize:BIG, fontFamily:FONT,
      rich:{a:{width:131, padding:[0,0,0,5], fontSize:BIG, fontFamily:FONT, color:'#000', lineHeight:26},
            b:{fontSize:BIG, fontFamily:FONT, color:'#000', lineHeight:26}}}}
});
</script></body></html>
